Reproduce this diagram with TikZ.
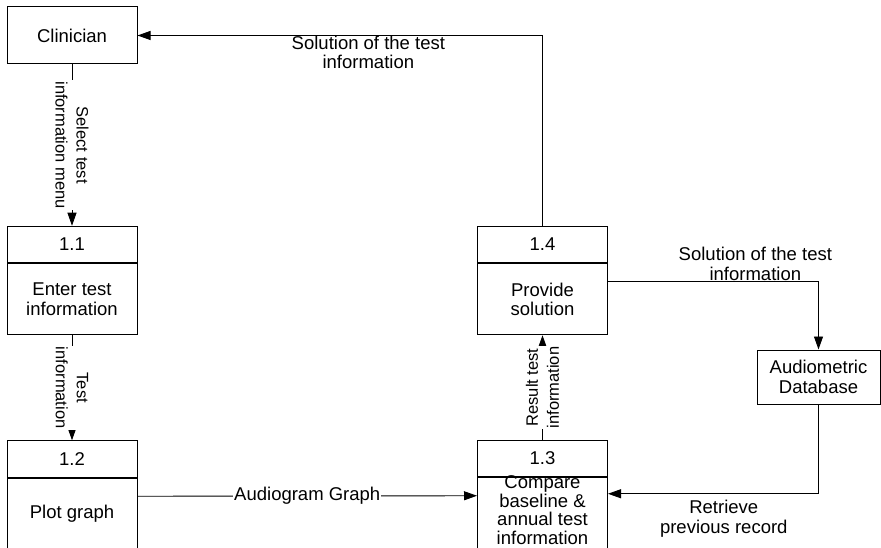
\documentclass[tikz,border=0pt]{standalone}
\usepackage{fontspec}
\setmainfont{Liberation Sans}
\usetikzlibrary{positioning, arrows.meta}

\begin{document}
\begin{tikzpicture}[x=1pt, y=-1pt,
  font=\fontsize{18.5}{19.5}\selectfont,
  ent/.style={draw=black, line width=1pt, fill=white, minimum width=130pt,
              minimum height=57pt, inner sep=0pt, align=center},
  numbox/.style={draw=black, line width=1pt, fill=white, minimum width=130pt,
                 minimum height=36.5pt, inner sep=0pt},
  txtbox/.style={draw=black, line width=1pt, fill=white, minimum width=130pt,
                 minimum height=71pt, inner sep=0pt, align=center},
  flow/.style={-{Triangle[length=13pt, width=9pt]}, line width=0.9pt},
  lbl/.style={align=center, inner sep=1pt},
  vlbl/.style={lbl, fill=white},
  rlbl/.style={vlbl, font=\fontsize{16.5}{21}\selectfont}
]
  \useasboundingbox (0,0) rectangle (881,548);

  % External entity
  \node[ent] (clin) at (72,35.5) {Clinician};

  % Processes
  \node[numbox] (n11) at (72,244.5) {1.1};
  \node[txtbox, below=0pt of n11] (p11) {Enter test\\information};
  \node[numbox] (n12) at (72,459) {1.2};
  \node[txtbox, below=0pt of n12] (p12) {Plot graph};
  \node[numbox] (n14) at (542.5,244.5) {1.4};
  \node[txtbox, below=0pt of n14] (p14) {Provide\\solution};
  \node[numbox] (n13) at (542.5,458.5) {1.3};
  \node[txtbox, below=0pt of n13] (p13) {};
  \node[lbl, font=\fontsize{18.5}{18.5}\selectfont] (t13) at ([yshift=3pt]p13)
    {Compare\\baseline \&\\annual test\\information};

  % Data store
  \node[ent, minimum width=123pt, minimum height=54pt] (db) at (818.5,377)
    {Audiometric\\Database};

  % Data flows
  \coordinate (c1) at (n14.north |- clin.east);
  \draw[flow] (n14.north) -- (c1) -- node[lbl, below, pos=0.43, inner sep=0pt] (l1)
    {Solution of the test\\information} (clin.east);
  \draw[flow] (clin.south) -- node[rlbl, rotate=-90] (l2)
    {Select test\\information menu} (n11.north);
  \draw[flow] (p11.south) -- node[rlbl, rotate=-90] (l3)
    {Test\\information} (n12.north);
  \draw[flow] ([yshift=17.5pt]p12.east) -- node[vlbl] (l4)
    {Audiogram Graph} ([yshift=17.5pt]p13.west);
  \draw[flow] (n13.north) -- node[rlbl, rotate=90] (l5)
    {Result test\\information} (p14.south);
  \draw[flow] ([yshift=17.5pt]p14.east) -| node[lbl, above, pos=0.35] (l6)
    {Solution of the test\\information} (db.north);
  \draw[flow] (db.south) |- node[lbl, below, pos=0.725, inner sep=6pt] (l7)
    {Retrieve\\previous record} ([yshift=19.5pt]p13.east);
\end{tikzpicture}
\end{document}
